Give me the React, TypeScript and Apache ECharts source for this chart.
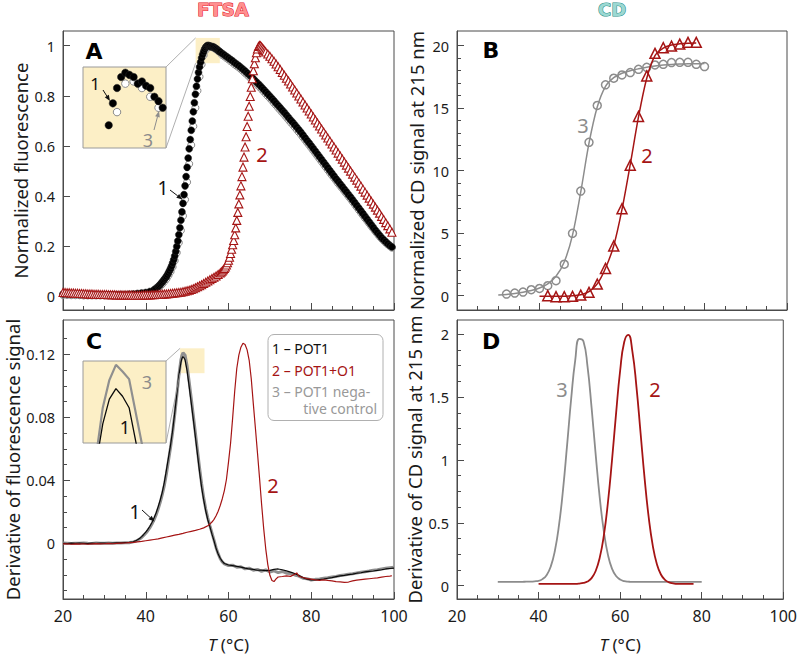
import React, { useEffect, useRef } from "react";
import * as echarts from "echarts";

// ---------- Panel A : FTSA, normalized fluorescence  [T (°C), value] ----------
const ftsaPot1: number[][] = [
  [20, 0.008], [21, 0.008], [22, 0.007], [23, 0.007], [24, 0.006], [25, 0.006], [26, 0.006], [27, 0.005],
  [28, 0.005], [29, 0.005], [30, 0.005], [31, 0.005], [32, 0.005], [33, 0.005], [34, 0.006], [35, 0.006],
  [36, 0.007], [37, 0.008], [38, 0.01], [39, 0.012], [40, 0.014], [41, 0.018], [42, 0.025], [42.5, 0.031],
  [43, 0.038], [43.25, 0.041], [43.5, 0.046], [43.75, 0.051], [44, 0.056], [44.25, 0.061], [44.5, 0.067],
  [44.75, 0.072], [45, 0.078], [45.25, 0.085], [45.5, 0.093], [45.75, 0.101], [46, 0.11], [46.25, 0.12],
  [46.5, 0.132], [46.75, 0.145], [47, 0.16], [47.25, 0.178], [47.5, 0.198], [47.75, 0.22], [48, 0.245],
  [48.25, 0.273], [48.5, 0.303], [48.75, 0.336], [49, 0.37], [49.25, 0.405], [49.5, 0.44], [49.75, 0.477],
  [50, 0.514], [50.25, 0.551], [50.5, 0.588], [50.75, 0.625], [51, 0.662], [51.25, 0.699], [51.5, 0.736],
  [51.75, 0.772], [52, 0.806], [52.25, 0.838], [52.5, 0.867], [52.75, 0.893], [53, 0.915], [53.25, 0.934],
  [53.5, 0.951], [53.75, 0.965], [54, 0.977], [54.25, 0.987], [54.5, 0.994], [54.75, 0.999], [55, 1.001],
  [55.25, 1.0], [55.5, 0.999], [55.75, 0.996], [56, 0.997], [56.25, 0.995], [56.5, 0.994], [56.75, 0.99],
  [57, 0.988], [57.25, 0.985], [57.5, 0.981], [57.75, 0.978], [58, 0.975],
  [58.5, 0.969], [59, 0.963], [59.5, 0.957], [60, 0.951], [60.5, 0.945], [61, 0.939], [61.5, 0.932],
  [62, 0.926], [62.5, 0.92], [63, 0.913], [63.5, 0.906], [64, 0.899], [64.5, 0.891], [65, 0.884],
  [65.5, 0.876], [66, 0.868], [66.5, 0.859], [67, 0.851], [67.5, 0.843], [68, 0.834], [68.5, 0.825],
  [69, 0.816], [69.5, 0.807], [70, 0.798], [70.5, 0.789], [71, 0.78], [71.5, 0.77], [72, 0.761],
  [72.5, 0.752], [73, 0.742], [73.5, 0.733], [74, 0.723], [74.5, 0.713], [75, 0.703], [75.5, 0.694],
  [76, 0.684], [76.5, 0.674], [77, 0.664], [77.5, 0.654], [78, 0.643], [78.5, 0.632], [79, 0.621],
  [79.5, 0.611], [80, 0.6], [80.5, 0.589], [81, 0.578], [81.5, 0.567], [82, 0.556], [82.5, 0.545],
  [83, 0.534], [83.5, 0.523], [84, 0.512], [84.5, 0.501], [85, 0.49], [85.5, 0.479], [86, 0.468],
  [86.5, 0.458], [87, 0.447], [87.5, 0.437], [88, 0.426], [88.5, 0.416], [89, 0.405], [89.5, 0.395],
  [90, 0.384], [90.5, 0.373], [91, 0.362], [91.5, 0.351], [92, 0.34], [92.5, 0.329], [93, 0.318],
  [93.5, 0.307], [94, 0.296], [94.5, 0.285], [95, 0.274], [95.5, 0.263], [96, 0.253], [96.5, 0.243],
  [97, 0.233], [97.5, 0.225], [98, 0.217], [98.5, 0.209], [99, 0.202], [99.5, 0.196],
];

const ftsaPot1Neg: number[][] = [
  [20, 0.004], [21, 0.004], [22, 0.003], [23, 0.003], [24, 0.003], [25, 0.002], [26, 0.002], [27, 0.002],
  [28, 0.002], [29, 0.002], [30, 0.002], [31, 0.002], [32, 0.002], [33, 0.002], [34, 0.003], [35, 0.003],
  [36, 0.004], [37, 0.005], [38, 0.006], [39, 0.008], [40, 0.01], [41, 0.013], [42, 0.019], [42.5, 0.025],
  [43, 0.031], [43.5, 0.039], [44, 0.048], [44.5, 0.058], [45, 0.068], [45.5, 0.082], [46, 0.097],
  [46.5, 0.116], [47, 0.141], [47.5, 0.173], [48, 0.213], [48.5, 0.262], [49, 0.32], [49.5, 0.385],
  [50, 0.455], [50.5, 0.528], [51, 0.603], [51.5, 0.678], [52, 0.752], [52.5, 0.82], [53, 0.876],
  [53.5, 0.925], [54, 0.962], [54.5, 0.983], [55, 0.996], [55.5, 0.997], [56, 0.994], [56.5, 0.99],
  [57, 0.985], [57.5, 0.979], [58, 0.972],
  [58.5, 0.963], [59, 0.957], [59.5, 0.951], [60, 0.945], [60.5, 0.938], [61, 0.932], [61.5, 0.925],
  [62, 0.919], [62.5, 0.913], [63, 0.906], [63.5, 0.899], [64, 0.891], [64.5, 0.884], [65, 0.876],
  [65.5, 0.868], [66, 0.86], [66.5, 0.852], [67, 0.843], [67.5, 0.835], [68, 0.826], [68.5, 0.817],
  [69, 0.808], [69.5, 0.799], [70, 0.79], [70.5, 0.781], [71, 0.771], [71.5, 0.762], [72, 0.752],
  [72.5, 0.743], [73, 0.733], [73.5, 0.724], [74, 0.714], [74.5, 0.704], [75, 0.694], [75.5, 0.685],
  [76, 0.675], [76.5, 0.665], [77, 0.655], [77.5, 0.645], [78, 0.634], [78.5, 0.624], [79, 0.613],
  [79.5, 0.603], [80, 0.592], [80.5, 0.581], [81, 0.57], [81.5, 0.559], [82, 0.548], [82.5, 0.537],
  [83, 0.526], [83.5, 0.515], [84, 0.504], [84.5, 0.493], [85, 0.482], [85.5, 0.472], [86, 0.461],
  [86.5, 0.45], [87, 0.44], [87.5, 0.43], [88, 0.419], [88.5, 0.409], [89, 0.398], [89.5, 0.388],
  [90, 0.377], [90.5, 0.366], [91, 0.355], [91.5, 0.344], [92, 0.333], [92.5, 0.322], [93, 0.311],
  [93.5, 0.301], [94, 0.29], [94.5, 0.279], [95, 0.269], [95.5, 0.258], [96, 0.248], [96.5, 0.238],
  [97, 0.229], [97.5, 0.221], [98, 0.213], [98.5, 0.206], [99, 0.199], [99.5, 0.193],
];

const ftsaPot1O1: number[][] = [
  [20, 0.014], [20.5, 0.014], [21, 0.013], [21.5, 0.013], [22, 0.012], [22.5, 0.012], [23, 0.011],
  [23.5, 0.011], [24, 0.01], [24.5, 0.01], [25, 0.009], [25.5, 0.009], [26, 0.008], [26.5, 0.008],
  [27, 0.008], [27.5, 0.007], [28, 0.007], [28.5, 0.007], [29, 0.006], [29.5, 0.006], [30, 0.006],
  [30.5, 0.006], [31, 0.005], [31.5, 0.005], [32, 0.005], [32.5, 0.005], [33, 0.004], [33.5, 0.004],
  [34, 0.004], [34.5, 0.004], [35, 0.004], [35.5, 0.004], [36, 0.004], [36.5, 0.004], [37, 0.003],
  [37.5, 0.003], [38, 0.003], [38.5, 0.003], [39, 0.003], [39.5, 0.004], [40, 0.004], [40.5, 0.004],
  [41, 0.004], [41.5, 0.005], [42, 0.005], [42.5, 0.006], [43, 0.006], [43.5, 0.007], [44, 0.007],
  [44.5, 0.008], [45, 0.008], [45.5, 0.009], [46, 0.01], [46.5, 0.011], [47, 0.012], [47.5, 0.013],
  [48, 0.014], [48.5, 0.015], [49, 0.017], [49.5, 0.019], [50, 0.021], [50.5, 0.023], [51, 0.026],
  [51.5, 0.029], [52, 0.033], [52.5, 0.037], [53, 0.041], [53.5, 0.045], [54, 0.05], [54.5, 0.055],
  [55, 0.06], [55.5, 0.065], [56, 0.07], [56.5, 0.075], [57, 0.08], [57.5, 0.086],
  [58, 0.092], [58.25, 0.096], [58.5, 0.1], [58.75, 0.105], [59, 0.11], [59.25, 0.116], [59.5, 0.124],
  [59.75, 0.133], [60, 0.143], [60.25, 0.155], [60.5, 0.17], [60.75, 0.187], [61, 0.205], [61.25, 0.222],
  [61.5, 0.245], [61.75, 0.272], [62, 0.302], [62.25, 0.334], [62.5, 0.368], [62.75, 0.404], [63, 0.44],
  [63.25, 0.477], [63.5, 0.515], [63.75, 0.555], [64, 0.595], [64.25, 0.636], [64.5, 0.677], [64.75, 0.718],
  [65, 0.758], [65.25, 0.797], [65.5, 0.834], [65.75, 0.868], [66, 0.9], [66.25, 0.928], [66.5, 0.952],
  [66.75, 0.972], [67, 0.987], [67.25, 0.997], [67.5, 1.001], [67.75, 1.0], [68, 0.995], [68.25, 0.99],
  [68.5, 0.985], [68.75, 0.98], [69, 0.975],
  [69.5, 0.967], [70, 0.958], [70.5, 0.948], [71, 0.938], [71.5, 0.927], [72, 0.916], [72.5, 0.905],
  [73, 0.893], [73.5, 0.882], [74, 0.87], [74.5, 0.859], [75, 0.847], [75.5, 0.835], [76, 0.823],
  [76.5, 0.811], [77, 0.799], [77.5, 0.787], [78, 0.775], [78.5, 0.763], [79, 0.751], [79.5, 0.739],
  [80, 0.727], [80.5, 0.715], [81, 0.703], [81.5, 0.691], [82, 0.679], [82.5, 0.667], [83, 0.655],
  [83.5, 0.643], [84, 0.631], [84.5, 0.619], [85, 0.607], [85.5, 0.595], [86, 0.583], [86.5, 0.571],
  [87, 0.559], [87.5, 0.547], [88, 0.535], [88.5, 0.523], [89, 0.511], [89.5, 0.499], [90, 0.487],
  [90.5, 0.475], [91, 0.463], [91.5, 0.451], [92, 0.439], [92.5, 0.427], [93, 0.415], [93.5, 0.403],
  [94, 0.391], [94.5, 0.379], [95, 0.367], [95.5, 0.355], [96, 0.343], [96.5, 0.331], [97, 0.318],
  [97.5, 0.306], [98, 0.293], [98.5, 0.281], [99, 0.268], [99.5, 0.255],
];

// ---------- Panel B : CD signal at 215 nm ----------
const cdTempsNeg = [32, 34, 36, 38, 40, 42, 44, 46, 48, 50, 52, 54, 56, 58, 60, 62, 64, 66, 68, 70, 72, 74, 76, 78, 80];
const cdNeg = [0.13, 0.21, 0.29, 0.48, 0.58, 0.8, 1.2, 2.52, 4.99, 8.37, 12.27, 15.22, 16.87, 17.4, 17.66, 17.85, 18.11, 18.27, 18.46, 18.51, 18.65, 18.67, 18.67, 18.51, 18.33];
const cdFitTempsNeg = [30, 32, 34, 36, 38, 40, 42, 44, 46, 48, 50, 52, 54, 56, 58, 60, 62, 64, 66, 68, 70, 72, 74, 76, 78, 80];
const cdFitNeg = [0.05, 0.1, 0.18, 0.28, 0.42, 0.62, 0.95, 1.55, 2.7, 4.85, 8.3, 12.2, 15.1, 16.75, 17.45, 17.8, 18.0, 18.15, 18.28, 18.38, 18.45, 18.5, 18.53, 18.55, 18.56, 18.57];
const cdTempsO1 = [42, 44, 46, 48, 50, 52, 54, 56, 58, 60, 62, 64, 66, 68, 70, 72, 74, 76, 78];
const cdO1 = [0, -0.08, -0.08, -0.05, 0.05, 0.27, 0.93, 2.18, 3.98, 6.96, 10.44, 14.34, 17.58, 19.39, 19.84, 19.97, 20.13, 20.27, 20.27];
const cdFitTempsO1 = [40, 42, 44, 46, 48, 50, 52, 54, 56, 58, 60, 62, 64, 66, 68, 70, 72, 74, 76, 78];
const cdFitO1 = [-0.05, -0.05, -0.05, -0.04, -0.01, 0.08, 0.33, 0.95, 2.2, 4.0, 6.9, 10.5, 14.3, 17.4, 19.2, 19.8, 20.05, 20.15, 20.2, 20.22];

// ---------- Panel C : derivative of fluorescence ----------
const dFtsaPot1: number[][] = [
  [20, 0.0], [21, -0.0002], [22, 0.0001], [23, -0.0001], [24, 0.0002], [25, 0.0], [26, -0.0002], [27, 0.0001],
  [28, 0.0], [29, 0.0002], [30, 0.0001], [31, 0.0], [32, 0.0002], [33, 0.0003], [34, 0.0003], [35, 0.0005],
  [36, 0.0006], [36.5, 0.0008], [37, 0.001], [37.5, 0.0015], [38, 0.0022], [38.5, 0.003], [39, 0.0042],
  [39.5, 0.0056], [40, 0.0071], [40.5, 0.0088], [41, 0.0108], [41.5, 0.0132], [42, 0.016], [42.5, 0.0192],
  [43, 0.0232], [43.5, 0.0275], [44, 0.0325], [44.5, 0.0388], [45, 0.0466], [45.5, 0.0545], [46, 0.0625],
  [46.5, 0.0718], [47, 0.0828], [47.5, 0.0945], [48, 0.1065], [48.5, 0.1148], [48.75, 0.1174], [49, 0.1185],
  [49.25, 0.1177], [49.5, 0.1165], [50, 0.1095], [50.5, 0.0995], [51, 0.089], [51.5, 0.0785], [52, 0.0675],
  [52.5, 0.0565], [53, 0.0455], [53.5, 0.0355], [54, 0.0275], [54.5, 0.0205], [55, 0.0148], [55.5, 0.0106],
  [56, 0.0058], [56.5, 0.0015], [57, -0.0032], [57.5, -0.0068], [58, -0.0095], [58.5, -0.0115], [59, -0.0128],
  [60, -0.0138], [61, -0.0142], [62, -0.0146], [63, -0.0151], [64, -0.0158], [65, -0.0163], [66, -0.0166],
  [67, -0.0171], [68, -0.017], [69, -0.0174], [70, -0.0172], [71, -0.0166], [72, -0.0163], [73, -0.0168],
  [74, -0.0175], [75, -0.0183], [76, -0.0192], [77, -0.0205], [78, -0.0218], [79, -0.0228], [80, -0.0232],
  [81, -0.0233], [82, -0.023], [83, -0.0228], [84, -0.0222], [85, -0.0218], [86, -0.0212], [87, -0.0207],
  [88, -0.0204], [89, -0.0199], [90, -0.0196], [91, -0.019], [92, -0.0187], [93, -0.0182], [94, -0.0178],
  [95, -0.0176], [96, -0.0172], [97, -0.0168], [98, -0.0163], [99, -0.016], [100, -0.0158],
];

const dFtsaPot1Neg: number[][] = [
  [20, 0.0002], [21, 0.0], [22, -0.0002], [23, 0.0001], [24, 0.0], [25, 0.0002], [26, 0.0], [27, -0.0001],
  [28, 0.0002], [29, 0.0], [30, 0.0001], [31, 0.0002], [32, 0.0], [33, 0.0002], [34, 0.0002], [35, 0.0003],
  [36, 0.0004], [36.5, 0.0006], [37, 0.0009], [37.5, 0.0013], [38, 0.0019], [38.5, 0.0027], [39, 0.0037],
  [39.5, 0.005], [40, 0.0064], [40.5, 0.008], [41, 0.0099], [41.5, 0.0122], [42, 0.0149], [42.5, 0.018],
  [43, 0.0217], [43.5, 0.026], [44, 0.031], [44.5, 0.0368], [45, 0.0442], [45.5, 0.0525], [46, 0.061],
  [46.5, 0.0705], [47, 0.0815], [47.5, 0.0935], [48, 0.1065], [48.5, 0.1165], [48.75, 0.1194], [49, 0.121],
  [49.25, 0.1203], [49.5, 0.1195], [50, 0.1125], [50.5, 0.1025], [51, 0.092], [51.5, 0.081], [52, 0.07],
  [52.5, 0.059], [53, 0.048], [53.5, 0.0378], [54, 0.029], [54.5, 0.0218], [55, 0.016], [55.5, 0.0112],
  [56, 0.0066], [56.5, 0.002], [57, -0.0028], [57.5, -0.0066], [58, -0.0098], [58.5, -0.0118], [59, -0.013],
  [60, -0.0141], [61, -0.0139], [62, -0.0152], [63, -0.0149], [64, -0.0162], [65, -0.0158], [66, -0.0171],
  [67, -0.0166], [68, -0.0178], [69, -0.0169], [70, -0.0182], [71, -0.0175], [72, -0.0186], [73, -0.0179],
  [74, -0.019], [75, -0.0192], [76, -0.0201], [77, -0.0208], [78, -0.0222], [79, -0.0225], [80, -0.0233],
  [81, -0.0229], [82, -0.0226], [83, -0.0222], [84, -0.0219], [85, -0.0214], [86, -0.0211], [87, -0.0205],
  [88, -0.0201], [89, -0.0197], [90, -0.0193], [91, -0.0188], [92, -0.0184], [93, -0.018], [94, -0.0176],
  [95, -0.0171], [96, -0.0168], [97, -0.0163], [98, -0.0159], [99, -0.0155], [100, -0.0152],
];

const dFtsaPot1O1: number[][] = [
  [20, -0.0004], [21, -0.0003], [22, -0.0006], [23, -0.0004], [24, -0.0005], [25, -0.0003], [26, -0.0006],
  [27, -0.0004], [28, -0.0002], [29, -0.0004], [30, -0.0003], [31, -0.0001], [32, -0.0003], [33, 0.0],
  [34, 0.0001], [35, 0.0002], [36, 0.0004], [37, 0.0006], [38, 0.0009], [39, 0.0012], [40, 0.0016],
  [41, 0.002], [42, 0.0024], [43, 0.0028], [44, 0.0034], [45, 0.004], [46, 0.0046], [47, 0.0052],
  [48, 0.0057], [49, 0.0063], [50, 0.007], [51, 0.0076], [52, 0.0082], [53, 0.0089], [54, 0.0098],
  [55, 0.0112], [55.5, 0.0122], [56, 0.0135], [56.5, 0.0152], [57, 0.0175], [57.5, 0.0203], [58, 0.024],
  [58.5, 0.0283], [59, 0.0335], [59.5, 0.0405], [60, 0.0515], [60.5, 0.0635], [61, 0.0795], [61.5, 0.0965],
  [62, 0.111], [62.5, 0.1195], [63, 0.1245], [63.5, 0.127], [64, 0.1262], [64.5, 0.1228], [65, 0.1162],
  [65.5, 0.1045], [66, 0.0885], [66.5, 0.0732], [67, 0.0575], [67.5, 0.0415], [68, 0.0248], [68.5, 0.0095],
  [69, -0.0035], [69.5, -0.0135], [70, -0.0203], [70.5, -0.0236], [71, -0.0243], [71.5, -0.0226],
  [72, -0.0214], [73, -0.0211], [74, -0.0207], [75, -0.021], [76, -0.0196], [76.5, -0.0188], [77, -0.0209],
  [78, -0.0217], [79, -0.0224], [80, -0.0227], [81, -0.0232], [82, -0.0235], [83, -0.0232], [84, -0.0236],
  [85, -0.0239], [86, -0.0243], [87, -0.0245], [88, -0.0248], [89, -0.0246], [90, -0.0239], [91, -0.0234],
  [92, -0.0231], [93, -0.0228], [94, -0.0225], [95, -0.0222], [96, -0.0219], [97, -0.0215], [98, -0.0211],
  [99, -0.0208], [99.5, -0.0206],
];

// ---------- Panel D : derivative of CD signal ----------
const dCdTempsNeg = [30, 31, 32, 33, 34, 35, 36, 37, 38, 39, 40, 41, 42, 43, 44, 45, 46, 47, 48, 49, 50, 51, 52, 53, 54, 55, 56, 57, 58, 59, 60, 61, 62, 63, 64, 65, 66, 67, 68, 69, 70, 71, 72, 73, 74, 75, 76, 77, 78, 79, 80];
const dCdNeg = [0.03, 0.03, 0.03, 0.03, 0.03, 0.03, 0.031, 0.032, 0.033, 0.035, 0.038, 0.053, 0.086, 0.154, 0.278, 0.479, 0.765, 1.12, 1.489, 1.796, 1.964, 1.945, 1.744, 1.417, 1.045, 0.701, 0.432, 0.247, 0.136, 0.077, 0.049, 0.037, 0.032, 0.03, 0.03, 0.03, 0.03, 0.03, 0.03, 0.03, 0.03, 0.03, 0.03, 0.03, 0.03, 0.03, 0.03, 0.03, 0.03, 0.03, 0.03];
const dCdTempsO1 = [40, 41, 42, 43, 44, 45, 46, 47, 48, 49, 50, 51, 52, 53, 54, 55, 56, 57, 58, 59, 60, 61, 62, 63, 64, 65, 66, 67, 68, 69, 70, 71, 72, 73, 74, 75, 76, 77, 78];
const dCdO1 = [0.015, 0.015, 0.015, 0.015, 0.015, 0.015, 0.015, 0.015, 0.015, 0.015, 0.017, 0.022, 0.033, 0.06, 0.117, 0.223, 0.399, 0.66, 0.996, 1.369, 1.71, 1.939, 1.996, 1.865, 1.582, 1.219, 0.854, 0.545, 0.319, 0.173, 0.089, 0.047, 0.027, 0.019, 0.015, 0.015, 0.015, 0.015, 0.015];

// ---------- axis ticks ----------
const xTicks = [20, 40, 60, 80, 100];
const yTicksA = [0, 0.2, 0.4, 0.6, 0.8, 1];
const yTicksB = [0, 5, 10, 15, 20];
const yMinorB = [1, 2, 3, 4, 6, 7, 8, 9, 11, 12, 13, 14, 16, 17, 18, 19];
const yTicksC = [0, 0.04, 0.08, 0.12];
const yMinorC = [-0.03, -0.02, -0.01, 0.01, 0.02, 0.03, 0.05, 0.06, 0.07, 0.09, 0.1, 0.11, 0.13];
const yTicksD = [0, 0.5, 1, 1.5, 2];
const yMinorD = [0.125, 0.25, 0.375, 0.625, 0.75, 0.875, 1.125, 1.25, 1.375, 1.625, 1.75, 1.875];

const FONT = "'Noto Sans', 'DejaVu Sans', sans-serif";
const RED = "#a51414";
const GRAY = "#8c8c8c";
const AXIS = "#4a4a4a";
const INSET_BG = "#fcefc6";
const TXT = "#1a1a1a";

const pairs = (xs: number[], ys: number[]) => xs.map((x, i) => [x, ys[i]]);

function mainX(gridIndex: number, labels: boolean) {
  return {
    type: "value",
    gridIndex,
    min: xTicks[0],
    max: xTicks[xTicks.length - 1],
    interval: 20,
    axisLine: { show: true, onZero: false, lineStyle: { color: AXIS } },
    axisTick: { show: true, inside: true, length: 7, lineStyle: { color: AXIS } },
    minorTick: { show: true, splitNumber: 4, length: 4, lineStyle: { color: AXIS } },
    splitLine: { show: false },
    axisLabel: { show: labels, margin: 9, fontSize: 16, fontFamily: FONT, color: TXT },
    name: labels ? "{i|T} (°C)" : "",
    nameLocation: "middle",
    nameGap: 37,
    nameTextStyle: {
      fontSize: 17,
      fontFamily: FONT,
      color: TXT,
      rich: { i: { fontStyle: "italic", fontSize: 17, fontFamily: FONT, color: TXT } },
    },
  };
}

function mainY(gridIndex: number, min: number, max: number, ticks: number[], name: string, nameGap: number) {
  return {
    type: "value",
    gridIndex,
    min,
    max,
    position: "left",
    axisLine: { show: true, onZero: false, lineStyle: { color: AXIS } },
    axisTick: { show: true, inside: true, length: 7, customValues: ticks, lineStyle: { color: AXIS } },
    splitLine: { show: false },
    axisLabel: { customValues: ticks, margin: 8, fontSize: 14.5, fontFamily: FONT, color: TXT },
    name,
    nameLocation: "middle",
    nameGap,
    nameTextStyle: { fontSize: 18.5, fontFamily: FONT, color: TXT },
  };
}

function minorY(gridIndex: number, min: number, max: number, ticks: number[]) {
  return {
    type: "value",
    gridIndex,
    min,
    max,
    position: "left",
    axisLine: { show: false, onZero: false },
    axisTick: { show: true, inside: true, length: 4, customValues: ticks, lineStyle: { color: AXIS } },
    axisLabel: { show: false },
    splitLine: { show: false },
  };
}

function hiddenAxis(gridIndex: number, min: number, max: number) {
  return { type: "value", gridIndex, min, max, show: false, splitLine: { show: false } };
}

const A_Y = [-0.0559, 1.0587];
const B_Y = [-1.144, 21.176];
const C_Y = [-0.03537, 0.14178];
const D_Y = [-0.1058, 2.1138];
const A_INSET = { x: [52.45, 57.45], y: [0.9666, 1.0036] };
const C_INSET = { x: [47.75, 50.9], y: [0.1128, 0.1214] };
const A_HIGHLIGHT = { x: [52.05, 57.9], y: [0.93, 1.031] };
const C_HIGHLIGHT = { x: [48.3, 54.2], y: [0.108, 0.1238] };

function arrow(x1: number, y1: number, x2: number, y2: number, color: string) {
  const a = Math.atan2(y2 - y1, x2 - x1);
  const L = 6, W = 2.4;
  const bx = x2 - L * Math.cos(a), by = y2 - L * Math.sin(a);
  const px = -Math.sin(a) * W, py = Math.cos(a) * W;
  return [
    { type: "line", z: 20, shape: { x1, y1, x2: bx, y2: by }, style: { stroke: color, lineWidth: 1 } },
    { type: "polygon", z: 20, shape: { points: [[x2, y2], [bx + px, by + py], [bx - px, by - py]] }, style: { fill: color } },
  ];
}

function label(x: number, y: number, text: string, fill: string, size: number, align = "center", weight = "normal", family = FONT) {
  return {
    type: "text",
    z: 20,
    x,
    y,
    style: {
      text,
      fill,
      font: `${weight} ${size}px ${family}`,
      lineHeight: size + 1,
      align,
      verticalAlign: "middle",
      textAlign: align,
      textVerticalAlign: "middle",
    },
  };
}

export default function App() {
  const ref = useRef<HTMLDivElement>(null);

  useEffect(() => {
    if (!ref.current) return;
    const chart = echarts.init(ref.current, undefined, { renderer: "svg" });

    const option: any = {
      animation: false,
      backgroundColor: "#ffffff",
      grid: [
        { left: 63, top: 31, width: 331, height: 279, show: true, borderColor: AXIS, borderWidth: 1 },
        { left: 457, top: 31, width: 330, height: 279, show: true, borderColor: AXIS, borderWidth: 1 },
        { left: 63, top: 320, width: 331, height: 279, show: true, borderColor: AXIS, borderWidth: 1 },
        { left: 457, top: 320, width: 330, height: 279, show: true, borderColor: AXIS, borderWidth: 1 },
        { left: 83, top: 67, width: 83, height: 81, show: true, backgroundColor: INSET_BG, borderColor: "#9a9a9a", borderWidth: 1, z: 5 },
        { left: 83, top: 361, width: 83, height: 82, show: true, backgroundColor: INSET_BG, borderColor: "#9a9a9a", borderWidth: 1, z: 5 },
      ],
      xAxis: [
        mainX(0, false),
        mainX(1, false),
        mainX(2, true),
        mainX(3, true),
        hiddenAxis(4, A_INSET.x[0], A_INSET.x[1]),
        hiddenAxis(5, C_INSET.x[0], C_INSET.x[1]),
      ],
      yAxis: [
        mainY(0, A_Y[0], A_Y[1], yTicksA, "Normalized fluorescence", 33),
        mainY(1, B_Y[0], B_Y[1], yTicksB, "Normalized CD signal at 215 nm", 31),
        mainY(2, C_Y[0], C_Y[1], yTicksC, "Derivative of fluorescence signal", 41),
        mainY(3, D_Y[0], D_Y[1], yTicksD, "Derivative of CD signal at 215 nm", 33),
        hiddenAxis(4, A_INSET.y[0], A_INSET.y[1]),
        hiddenAxis(5, C_INSET.y[0], C_INSET.y[1]),
        minorY(1, B_Y[0], B_Y[1], yMinorB),
        minorY(2, C_Y[0], C_Y[1], yMinorC),
        minorY(3, D_Y[0], D_Y[1], yMinorD),
      ],
      series: [
        // ---- A ----
        {
          type: "scatter", xAxisIndex: 0, yAxisIndex: 0, data: ftsaPot1Neg, symbol: "circle", symbolSize: 7,
          itemStyle: { color: "#ffffff", borderColor: "#8a8a8a", borderWidth: 1, opacity: 1 },
          markArea: {
            silent: true,
            itemStyle: { color: INSET_BG, opacity: 1 },
            data: [[{ coord: [A_HIGHLIGHT.x[0], A_HIGHLIGHT.y[1]] }, { coord: [A_HIGHLIGHT.x[1], A_HIGHLIGHT.y[0]] }]],
          },
        },
        {
          type: "scatter", xAxisIndex: 0, yAxisIndex: 0, data: ftsaPot1, symbol: "circle", symbolSize: 7,
          itemStyle: { color: "#000000", borderColor: "#2a2a2a", borderWidth: 0.5, opacity: 1 },
        },
        {
          type: "scatter", xAxisIndex: 0, yAxisIndex: 0, data: ftsaPot1O1, symbol: "triangle", symbolSize: 8,
          itemStyle: { color: "#ffffff", borderColor: RED, borderWidth: 1.1, opacity: 1 },
        },
        // ---- A inset ----
        {
          type: "scatter", xAxisIndex: 4, yAxisIndex: 4, data: ftsaPot1Neg, symbol: "circle", symbolSize: 7.5, z: 6, clip: true,
          itemStyle: { color: "#ffffff", borderColor: "#8a8a8a", borderWidth: 1, opacity: 1 },
        },
        {
          type: "scatter", xAxisIndex: 4, yAxisIndex: 4, data: ftsaPot1, symbol: "circle", symbolSize: 7.5, z: 6, clip: true,
          itemStyle: { color: "#000000", borderColor: "#2a2a2a", borderWidth: 0.5, opacity: 1 },
        },
        // ---- B ----
        {
          type: "line", xAxisIndex: 1, yAxisIndex: 1, data: pairs(cdFitTempsNeg, cdFitNeg), smooth: 0.3, showSymbol: false,
          lineStyle: { color: GRAY, width: 1.5 },
        },
        {
          type: "scatter", xAxisIndex: 1, yAxisIndex: 1, data: pairs(cdTempsNeg, cdNeg), symbol: "circle", symbolSize: 8,
          itemStyle: { color: "#ffffff", borderColor: GRAY, borderWidth: 1.5, opacity: 1 },
        },
        {
          type: "line", xAxisIndex: 1, yAxisIndex: 1, data: pairs(cdFitTempsO1, cdFitO1), smooth: 0.3, showSymbol: false,
          lineStyle: { color: RED, width: 1.5 },
        },
        {
          type: "scatter", xAxisIndex: 1, yAxisIndex: 1, data: pairs(cdTempsO1, cdO1), symbol: "triangle", symbolSize: 10,
          itemStyle: { color: "#ffffff", borderColor: RED, borderWidth: 1.5, opacity: 1 },
        },
        // ---- C ----
        {
          type: "line", xAxisIndex: 2, yAxisIndex: 2, data: dFtsaPot1Neg, showSymbol: false,
          lineStyle: { color: "#8f8f8f", width: 3 },
          markArea: {
            silent: true,
            itemStyle: { color: INSET_BG, opacity: 1 },
            data: [[{ coord: [C_HIGHLIGHT.x[0], C_HIGHLIGHT.y[1]] }, { coord: [C_HIGHLIGHT.x[1], C_HIGHLIGHT.y[0]] }]],
          },
        },
        {
          type: "line", xAxisIndex: 2, yAxisIndex: 2, data: dFtsaPot1, showSymbol: false,
          lineStyle: { color: "#0a0a0a", width: 1.2 },
        },
        {
          type: "line", xAxisIndex: 2, yAxisIndex: 2, data: dFtsaPot1O1, showSymbol: false,
          lineStyle: { color: RED, width: 1.2 },
        },
        // ---- C inset ----
        {
          type: "line", xAxisIndex: 5, yAxisIndex: 5, data: dFtsaPot1Neg, showSymbol: false, z: 6, clip: true,
          lineStyle: { color: "#8f8f8f", width: 2.2 },
        },
        {
          type: "line", xAxisIndex: 5, yAxisIndex: 5, data: dFtsaPot1, showSymbol: false, z: 6, clip: true,
          lineStyle: { color: "#0a0a0a", width: 1.3 },
        },
        // ---- D ----
        {
          type: "line", xAxisIndex: 3, yAxisIndex: 3, data: pairs(dCdTempsNeg, dCdNeg), smooth: true, showSymbol: false,
          lineStyle: { color: GRAY, width: 1.8 },
        },
        {
          type: "line", xAxisIndex: 3, yAxisIndex: 3, data: pairs(dCdTempsO1, dCdO1), smooth: true, showSymbol: false,
          lineStyle: { color: RED, width: 1.8 },
        },
      ],
    };

    chart.setOption(option);

    const px = (xi: number, yi: number, v: number[]) => chart.convertToPixel({ xAxisIndex: xi, yAxisIndex: yi }, v) as number[];
    const aHTL = px(0, 0, [A_HIGHLIGHT.x[0], A_HIGHLIGHT.y[1]]);
    const aHBL = px(0, 0, [A_HIGHLIGHT.x[0], A_HIGHLIGHT.y[0]]);
    const aITR = px(4, 4, [A_INSET.x[1], A_INSET.y[1]]);
    const aIBR = px(4, 4, [A_INSET.x[1], A_INSET.y[0]]);
    const cHTL = px(2, 2, [C_HIGHLIGHT.x[0], C_HIGHLIGHT.y[1]]);
    const cHBL = px(2, 2, [C_HIGHLIGHT.x[0], C_HIGHLIGHT.y[0]]);
    const cITR = px(5, 5, [C_INSET.x[1], C_INSET.y[1]]);
    const cIBR = px(5, 5, [C_INSET.x[1], C_INSET.y[0]]);

    const connector = (p: number[], q: number[]) => ({
      type: "line", z: 4, shape: { x1: p[0], y1: p[1], x2: q[0], y2: q[1] }, style: { stroke: "#9a9a9a", lineWidth: 0.8 },
    });

    const BOLD = "'DejaVu Sans', sans-serif";
    const graphic: any[] = [
      // titles
      {
        type: "text", x: 223, y: 9, z: 20,
        style: { text: "FTSA", font: `bold 18px ${BOLD}`, fill: "#ff8f8f", stroke: "#e2222e", lineWidth: 1.1, align: "center", verticalAlign: "middle", textAlign: "center", textVerticalAlign: "middle" },
      },
      {
        type: "text", x: 612, y: 9, z: 20,
        style: { text: "CD", font: `bold 18px ${BOLD}`, fill: "#9cd8d2", stroke: "#1f8e88", lineWidth: 1.1, align: "center", verticalAlign: "middle", textAlign: "center", textVerticalAlign: "middle" },
      },
      // panel letters
      label(94, 51, "A", "#000", 22, "center", "bold", BOLD),
      label(491, 50, "B", "#000", 22, "center", "bold", BOLD),
      label(94, 341, "C", "#000", 22, "center", "bold", BOLD),
      label(491, 341, "D", "#000", 22, "center", "bold", BOLD),
      // connectors
      connector(aITR, aHTL),
      connector(aIBR, aHBL),
      connector(cITR, cHTL),
      connector(cIBR, cHBL),
      // A annotations
      label(163, 188, "1", "#111", 19),
      ...arrow(170, 190, 182.5, 199.5, "#111"),
      label(262, 154, "2", RED, 20),
      label(95, 83, "1", "#111", 17),
      ...arrow(103, 90, 110, 101, "#111"),
      label(148, 140, "3", GRAY, 18),
      ...arrow(154, 130, 159, 111, GRAY),
      // B annotations
      label(583, 125, "3", GRAY, 20),
      label(647, 155, "2", RED, 20),
      // C annotations
      label(135, 512, "1", "#111", 19),
      ...arrow(142, 510, 154.5, 521.5, "#111"),
      label(273, 485, "2", RED, 20),
      label(147, 382, "3", GRAY, 18),
      label(125, 427, "1", "#111", 18),
      // D annotations
      label(562, 389, "3", GRAY, 20),
      label(655, 389, "2", RED, 20),
      // legend (C)
      {
        type: "rect", z: 15,
        shape: { x: 268, y: 334.5, width: 115, height: 86, r: 6 },
        style: { fill: "#ffffff", stroke: "#b0b0b0", lineWidth: 1 },
      },
      label(272, 348.5, "1 – POT1", "#111", 14, "left"),
      label(272, 370.5, "2 – POT1+O1", RED, 14, "left"),
      label(272, 391, "3 – POT1 nega-", "#999999", 14, "left"),
      label(377, 408.5, "tive control", "#999999", 14, "right"),
    ];

    chart.setOption({ graphic });

    return () => {
      chart.dispose();
    };
  }, []);

  return <div ref={ref} style={{ position: "fixed", left: 0, top: 0, width: 800, height: 655 }} />;
}
